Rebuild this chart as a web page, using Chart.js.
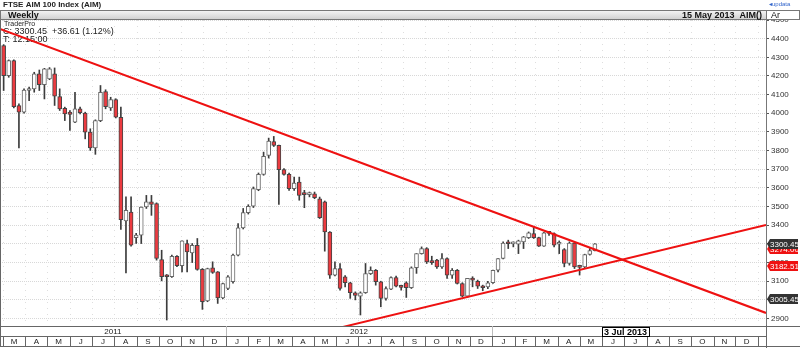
<!DOCTYPE html>
<html lang="en">
<head>
<meta charset="UTF-8">
<title>FTSE AIM 100 Index - Weekly</title>
<script src="https://cdn.jsdelivr.net/npm/chart.js"></script>
<style>
  html, body { margin: 0; padding: 0; background: #fff; }
  #wrap { width: 800px; height: 348px; }
</style>
</head>
<body>
<div id="wrap"><canvas id="chart" width="800" height="348"></canvas></div>
<script>
// weekly candles, first one in the week of 2 Mar 2011
const firstWeek = '2011-03-02';
const opens = [4363,4202,4282,4042,4006,4122,4131,4211,4154,4184,
  4211,4090,4027,4006,3953,4024,4001,3899,3815,3961,
  4117,4029,4074,3979,3423,3471,3334,3347,3498,3525,
  3516,3216,3133,3124,3234,3183,3302,3252,3293,3164,
  2994,3172,3150,3011,3061,3097,3240,3386,3468,3502,
  3591,3673,3774,3849,3828,3698,3673,3596,3632,3566,
  3564,3569,3542,3525,3364,3133,3168,3124,3092,3038,
  3020,3038,3141,3159,3097,3008,3058,3120,3074,3092,
  3065,3172,3248,3275,3204,3213,3177,3222,3133,3159,
  3088,3020,3115,3100,3074,3070,3092,3159,3222,3305,
  3300,3298,3311,3334,3355,3334,3288,3359,3355,3298,
  3270,3195,3305,3177,3177,3243,3264];
const highs = [4368,4286,4286,4051,4131,4140,4220,4232,4241,4245,
  4243,4131,4033,4015,4113,4033,4006,3917,3965,4149,
  4126,4086,4078,4033,3552,3552,3356,3498,3560,3560,
  3520,3266,3136,3240,3238,3316,3320,3302,3329,3168,
  3170,3204,3152,3090,3130,3245,3409,3490,3510,3605,
  3680,3792,3867,3876,3830,3704,3680,3658,3658,3587,
  3578,3578,3551,3530,3366,3204,3195,3130,3094,3043,
  3043,3195,3177,3163,3100,3070,3124,3127,3079,3097,
  3177,3248,3284,3280,3234,3217,3248,3226,3168,3163,
  3092,3115,3124,3106,3079,3100,3160,3222,3311,3320,
  3311,3320,3340,3364,3391,3336,3362,3364,3359,3316,
  3275,3311,3308,3186,3245,3275,3302];
const lows = [4122,4193,4029,3815,4000,4068,4113,4122,4077,4180,
  4042,4015,3961,3908,3950,3997,3863,3801,3780,3955,
  4024,4015,3975,3377,3145,3288,3302,3302,3490,3453,
  3213,3102,2892,3120,3178,3150,3150,3200,3159,2949,
  2990,3142,2981,3006,3055,3090,3235,3380,3460,3495,
  3585,3668,3760,3822,3511,3668,3587,3587,3534,3494,
  3552,3542,3436,3261,3115,3128,3052,3070,3008,3000,
  2919,3035,3136,3079,2963,2999,3055,3070,3052,3013,
  3061,3142,3245,3195,3190,3168,3168,3115,3115,3085,
  3017,3013,3070,3061,3049,3060,3088,3150,3220,3275,
  3284,3248,3275,3329,3329,3286,3286,3346,3284,3248,
  3177,3186,3168,3133,3172,3240,3262];
const closes = [4202,4282,4036,4006,4125,4127,4211,4154,4238,4238,
  4092,4024,3997,3994,4024,4003,3899,3815,3961,4113,
  4036,4074,3979,3430,3480,3293,3347,3498,3525,3512,
  3222,3124,3124,3234,3183,3316,3257,3293,3163,2990,
  3168,3147,3011,3088,3124,3240,3386,3468,3502,3596,
  3673,3769,3851,3828,3698,3673,3596,3626,3560,3564,
  3566,3548,3441,3364,3133,3168,3061,3092,3038,3024,
  3038,3141,3159,3097,3008,3061,3120,3074,3067,3065,
  3172,3248,3275,3204,3200,3177,3222,3133,3159,3088,
  3020,3115,3106,3074,3065,3092,3159,3222,3305,3301,
  3303,3316,3338,3359,3334,3288,3359,3356,3293,3302,
  3195,3305,3177,3174,3243,3264,3300];

const yTicks = [2900,3000,3100,3200,3300,3400,3500,3600,3700,3800,3900,4000,4100,4200,4300,4400,4500];
const downTrend = [['2011-02-25', 4452], ['2014-01-12', 2930]];
const upTrend = [['2012-06-10', 2855], ['2014-01-12', 3401]];
const priceTags = [[3274, '#ee1111'], [3300.45, '#333333'], [3182.51, '#ee1111'], [3005.45, '#333333']];
const monthLetters = ['J','F','M','A','M','J','J','A','S','O','N','D'];
const years = [2011, 2012, 2013];
const xMin = '2011-02-25', xMax = '2014-01-12';

// days since 1 Jan 2011
const T0 = Date.UTC(2011, 0, 1);
function day(s) {
  const p = s.split('-').map(Number);
  return (Date.UTC(p[0], p[1] - 1, p[2]) - T0) / 86400000;
}
function dayYM(y, m) { return (Date.UTC(y, m, 1) - T0) / 86400000; }

const x0 = day(firstWeek);
const xs = opens.map((_, i) => x0 + i * 7);
const up = opens.map((o, i) => closes[i] >= o);

const FONT = '"Liberation Sans", Arial, sans-serif';

const decor = {
  id: 'decor',
  beforeDatasetsDraw(chart) {
    const ctx = chart.ctx, xs_ = chart.scales.x, a = chart.chartArea;
    ctx.save();
    // faint dotted month grid
    ctx.strokeStyle = '#dedede';
    ctx.setLineDash([1, 5]);
    ctx.lineWidth = 1;
    for (const y of years.concat([2014])) {
      for (let m = 0; m < 12; m++) {
        const px = Math.round(xs_.getPixelForValue(dayYM(y, m))) + 0.5;
        if (px <= a.left + 1 || px >= a.right) continue;
        ctx.beginPath(); ctx.moveTo(px, a.top); ctx.lineTo(px, a.bottom); ctx.stroke();
      }
    }
    ctx.setLineDash([]);
    // info text in the plot
    ctx.fillStyle = '#222';
    ctx.textBaseline = 'middle';
    ctx.font = '7px ' + FONT;
    ctx.fillText('TraderPro', 4, 24);
    ctx.font = '9px ' + FONT;
    ctx.fillText('C: 3300.45  +36.61 (1.12%)', 3, 32);
    ctx.fillText('T: 12:15:00', 3, 40);
    ctx.restore();
  },
  afterDraw(chart) {
    const ctx = chart.ctx, xs_ = chart.scales.x, ys = chart.scales.y, a = chart.chartArea;
    ctx.save();
    // top title line
    ctx.fillStyle = '#fff';
    ctx.fillRect(0, 0, 800, 10);
    ctx.fillStyle = '#222';
    ctx.font = 'bold 8px ' + FONT;
    ctx.textBaseline = 'middle';
    ctx.fillText('FTSE AIM 100 Index (AIM)', 3, 5);
    ctx.fillStyle = '#3366cc';
    ctx.font = '6px ' + FONT;
    ctx.fillText('\u25C2updata', 769, 4);
    // header bar
    const g = ctx.createLinearGradient(0, 10, 0, 20);
    g.addColorStop(0, '#f6f6f6');
    g.addColorStop(1, '#cdcdcd');
    ctx.fillStyle = g;
    ctx.fillRect(0, 10, 766, 10);
    ctx.fillStyle = '#fff';
    ctx.fillRect(766, 10, 34, 10);
    ctx.strokeStyle = '#777';
    ctx.lineWidth = 1;
    ctx.strokeRect(0.5, 10.5, 799, 9);
    ctx.beginPath(); ctx.moveTo(766.5, 10); ctx.lineTo(766.5, 20); ctx.stroke();
    ctx.fillStyle = '#111';
    ctx.font = 'bold 9px ' + FONT;
    ctx.fillText('Weekly', 8, 15.5);
    ctx.textAlign = 'right';
    ctx.fillText('15 May 2013  AIM()', 762, 15.5);
    ctx.textAlign = 'left';
    ctx.font = '9px ' + FONT;
    ctx.fillText('Ar', 771, 15.5);

    // left border of the plot
    ctx.strokeStyle = '#666';
    ctx.beginPath(); ctx.moveTo(0.5, a.top); ctx.lineTo(0.5, a.bottom); ctx.stroke();

    // price tags on the right axis
    ctx.font = '8px ' + FONT;
    for (const [v, col] of priceTags) {
      const py = Math.round(ys.getPixelForValue(v));
      ctx.fillStyle = col;
      ctx.beginPath();
      ctx.moveTo(767, py);
      ctx.lineTo(770, py - 5);
      ctx.lineTo(798, py - 5);
      ctx.lineTo(798, py + 5);
      ctx.lineTo(770, py + 5);
      ctx.closePath();
      ctx.fill();
      ctx.fillStyle = '#fff';
      ctx.fillText(v.toFixed(2), 770, py + 0.5);
    }

    // bottom time axis: year row and month row
    const yb = a.bottom;
    ctx.fillStyle = '#fff';
    ctx.fillRect(0, yb, 800, 348 - yb);
    ctx.strokeStyle = '#666';
    ctx.beginPath();
    ctx.moveTo(0, yb + 0.5); ctx.lineTo(800, yb + 0.5);
    ctx.moveTo(0, yb + 10.5); ctx.lineTo(766, yb + 10.5);
    ctx.moveTo(0, yb + 20.5); ctx.lineTo(800, yb + 20.5);
    ctx.moveTo(0.5, yb); ctx.lineTo(0.5, yb + 21);
    ctx.moveTo(766.5, yb - 1); ctx.lineTo(766.5, 348);
    ctx.stroke();
    ctx.textAlign = 'center';
    ctx.fillStyle = '#222';
    ctx.font = '8px ' + FONT;
    // years
    for (const y of years) {
      const l = Math.max(a.left, xs_.getPixelForValue(dayYM(y, 0)));
      const r = Math.min(a.right, xs_.getPixelForValue(dayYM(y + 1, 0)));
      if (y > years[0]) {
        ctx.strokeStyle = '#bbb';
        ctx.beginPath(); ctx.moveTo(Math.round(l) + 0.5, yb); ctx.lineTo(Math.round(l) + 0.5, yb + 10); ctx.stroke();
      }
      if (y < 2013) ctx.fillText(String(y), (l + r) / 2, yb + 6);
    }
    // months
    ctx.strokeStyle = '#666';
    for (const y of years) {
      for (let m = 0; m < 12; m++) {
        const l = xs_.getPixelForValue(dayYM(y, m));
        const r = xs_.getPixelForValue(dayYM(y, m + 1));
        if (r <= a.left) continue;
        const pl = Math.round(l) + 0.5;
        if (l > a.left) { ctx.beginPath(); ctx.moveTo(pl, yb + 10); ctx.lineTo(pl, yb + 20); ctx.stroke(); }
        if (l >= a.left) ctx.fillText(monthLetters[m], (l + r) / 2, yb + 16);
      }
    }
    const pe = Math.round(xs_.getPixelForValue(dayYM(2014, 0))) + 0.5;
    ctx.beginPath(); ctx.moveTo(pe, yb + 10); ctx.lineTo(pe, yb + 20); ctx.stroke();

    // crosshair date box
    const cx = xs_.getPixelForValue(day('2013-07-03'));
    ctx.font = 'bold 9px ' + FONT;
    const tw = ctx.measureText('3 Jul 2013').width + 4;
    ctx.fillStyle = '#fff';
    ctx.fillRect(cx - tw / 2, yb + 1, tw, 10);
    ctx.strokeStyle = '#000';
    ctx.strokeRect(Math.round(cx - tw / 2) + 0.5, yb + 1.5, Math.round(tw), 9);
    ctx.fillStyle = '#000';
    ctx.fillText('3 Jul 2013', cx, yb + 6.5);
    ctx.restore();
  }
};

const toPts = arr => arr.map(p => ({ x: day(p[0]), y: p[1] }));

new Chart(document.getElementById('chart'), {
  type: 'bar',
  data: {
    datasets: [
      {
        type: 'line',
        data: toPts(downTrend),
        borderColor: '#ee1111',
        borderWidth: 2,
        pointRadius: 0,
        order: 0
      },
      {
        type: 'line',
        data: toPts(upTrend),
        borderColor: '#ee1111',
        borderWidth: 2,
        pointRadius: 0,
        order: 0
      },
      {
        data: xs.map((x, i) => ({ x: x, y: [opens[i], closes[i]] })),
        backgroundColor: up.map(u => u ? '#ffffff' : '#ec3b40'),
        borderColor: up.map(u => u ? '#666666' : '#444444'),
        borderWidth: 1,
        borderSkipped: false,
        barThickness: 4,
        minBarLength: 2,
        grouped: false,
        order: 1
      },
      {
        data: xs.map((x, i) => ({ x: x, y: [lows[i], highs[i]] })),
        backgroundColor: '#3c3c3c',
        barThickness: 1,
        grouped: false,
        order: 2
      }
    ]
  },
  options: {
    responsive: false,
    animation: false,
    devicePixelRatio: 1,
    layout: { padding: { top: 20, bottom: 22, left: 0, right: 0 } },
    plugins: { legend: { display: false }, tooltip: { enabled: false } },
    scales: {
      x: {
        type: 'linear',
        min: day(xMin),
        max: day(xMax),
        display: false,
        offset: false
      },
      y: {
        position: 'right',
        min: 2860,
        max: 4500,
        afterBuildTicks: s => { s.ticks = yTicks.map(v => ({ value: v })); },
        afterFit: s => { s.width = 34; },
        grid: {
          color: '#d8d8d8',
          tickColor: '#555',
          tickLength: 3,
          drawTicks: true,
          tickBorderDash: [],
          borderDash: [1, 5]
        },
        border: { display: true, color: '#777', dash: [1, 1] },
        ticks: {
          padding: 2,
          color: '#333',
          font: { family: FONT, size: 8 },
          callback: v => String(v)
        }
      }
    }
  }
  ,
  plugins: [decor]
});
</script>
</body>
</html>
